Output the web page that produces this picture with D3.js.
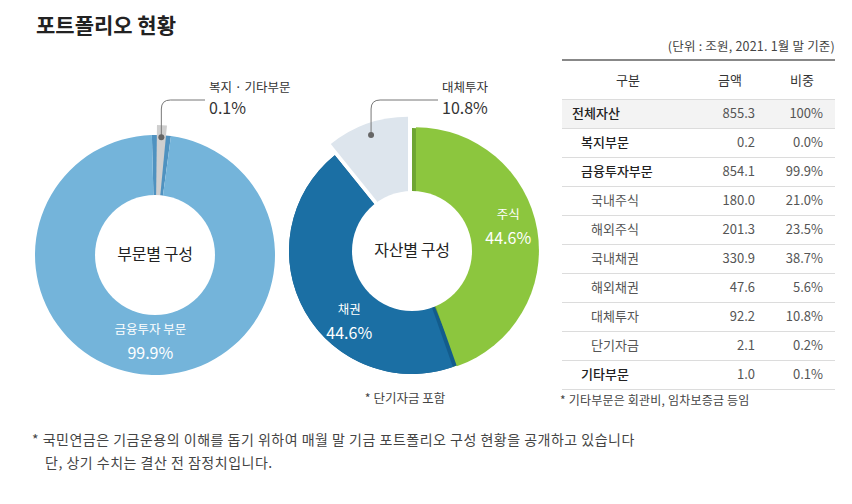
<!DOCTYPE html>
<html>
<head>
<meta charset="utf-8">
<script src="https://cdn.jsdelivr.net/npm/d3@7"></script>
<style>
  body { margin: 0; background: #fff; }
  svg { display: block; font-family: "Noto Sans CJK KR", "Noto Sans", sans-serif; }
</style>
</head>
<body>
<svg id="chart" width="852" height="504"></svg>
<script>
const titleText = '포트폴리오 현황';

// 부문별 구성
const sectorNames = ['복지 · 기타부문', '금융투자 부문'];
const sectorShares = [0.1, 99.9];

// 자산별 구성
const assetNames = ['주식', '채권', '대체투자'];
const assetShares = [44.6, 44.6, 10.8];

// table
const unitNote = '(단위 : 조원, 2021. 1월 말 기준)';
const headLabels = ['구분', '금액', '비중'];
const rowLabels = ['전체자산', '복지부문', '금융투자부문', '국내주식', '해외주식', '국내채권', '해외채권', '대체투자', '단기자금', '기타부문'];
const rowAmounts = [855.3, 0.2, 854.1, 180.0, 201.3, 330.9, 47.6, 92.2, 2.1, 1.0];
const rowShares = [100, 0.0, 99.9, 21.0, 23.5, 38.7, 5.6, 10.8, 0.2, 0.1];
const rowLevels = [0, 1, 1, 2, 2, 2, 2, 2, 2, 1];

const assetNote = '* 단기자금 포함';
const tableNote = '* 기타부문은 회관비, 임차보증금 등임';
const footLines = [
  '* 국민연금은 기금운용의 이해를 돕기 위하여 매월 말 기금 포트폴리오 구성 현황을 공개하고 있습니다',
  '단, 상기 수치는 결산 전 잠정치입니다.'
];

// tiny slices get a minimum drawn share so they stay visible (as in the original)
const MIN_VISIBLE = 2.6;

const svg = d3.select('#chart');
const pct = v => (v === 100 ? '100' : v.toFixed(1)) + '%';

svg.append('text')
  .attr('x', 36).attr('y', 33)
  .attr('font-size', 21).attr('font-weight', 700)
  .attr('fill', '#222')
  .text(titleText);

function drawDonut (cfg) {
  const g = svg.append('g').attr('transform', `translate(${cfg.cx},${cfg.cy})`);
  const data = cfg.names.map((name, i) => ({ name, value: cfg.values[i] }));
  const pie = d3.pie()
    .sort(null)
    .startAngle(cfg.startAngle)
    .endAngle(cfg.startAngle + 2 * Math.PI)
    .value(d => Math.max(d.value, MIN_VISIBLE));
  const arcs = pie(data);
  const arc = d3.arc().innerRadius(0).outerRadius(cfg.r);
  const mid = a => (a.startAngle + a.endAngle) / 2;
  const shift = (a, dist) => [Math.sin(mid(a)) * dist, -Math.cos(mid(a)) * dist];

  // darker edge under exploded slices
  g.selectAll('path.shade')
    .data(arcs.filter(a => cfg.shades[a.index]))
    .join('path')
    .attr('class', 'shade')
    .attr('d', a => arc({ startAngle: a.startAngle - cfg.shadePad[a.index], endAngle: a.endAngle }))
    .attr('fill', a => cfg.shades[a.index]);

  g.selectAll('path.slice')
    .data(arcs)
    .join('path')
    .attr('class', 'slice')
    .attr('transform', a => `translate(${shift(a, cfg.explode[a.index])})`)
    .attr('d', a => arc({ startAngle: a.startAngle + cfg.trim[a.index], endAngle: a.endAngle - cfg.trim[a.index] }))
    .attr('fill', a => cfg.colors[a.index]);

  g.append('circle').attr('r', cfg.hole).attr('fill', '#fff');

  g.append('text')
    .attr('y', 1)
    .attr('text-anchor', 'middle')
    .attr('dominant-baseline', 'middle')
    .attr('font-size', 16)
    .attr('letter-spacing', -0.3)
    .attr('fill', '#222')
    .text(cfg.title);

  // labels inside the ring
  arcs.filter(a => a.index !== cfg.callout).forEach(a => {
    const ang = mid(a) + (cfg.labelNudge[a.index] || 0);
    const [ox, oy] = shift(a, cfg.explode[a.index]);
    const x = ox + Math.sin(ang) * cfg.labelR;
    const y = oy - Math.cos(ang) * cfg.labelR;
    g.append('text')
      .attr('x', x).attr('y', y - 12)
      .attr('text-anchor', 'middle').attr('dominant-baseline', 'middle')
      .attr('font-size', 12.5).attr('fill', '#fff')
      .text(a.data.name);
    g.append('text')
      .attr('x', x).attr('y', y + 12)
      .attr('text-anchor', 'middle').attr('dominant-baseline', 'middle')
      .attr('font-size', 16).attr('fill', '#fff')
      .text(pct(a.data.value));
  });

  // callout for the exploded slice
  const c = arcs[cfg.callout];
  const [ox, oy] = shift(c, cfg.explode[c.index]);
  const dx = ox + Math.sin(mid(c)) * (cfg.r - 12);
  const dy = oy - Math.cos(mid(c)) * (cfg.r - 12);
  const cy = cfg.calloutY - cfg.cy;
  const ex = cfg.calloutX - cfg.cx;
  g.append('path')
    .attr('d', `M${dx},${dy}V${cy + 9}Q${dx},${cy} ${dx + 9},${cy}H${ex}`)
    .attr('fill', 'none').attr('stroke', '#777').attr('stroke-width', 1);
  g.append('circle').attr('cx', dx).attr('cy', dy).attr('r', 3).attr('fill', '#666');
  g.append('text')
    .attr('x', ex + 4).attr('y', cy - 11)
    .attr('dominant-baseline', 'middle')
    .attr('font-size', 12.5).attr('fill', '#333')
    .text(c.data.name);
  g.append('text')
    .attr('x', ex + 4).attr('y', cy + 10)
    .attr('dominant-baseline', 'middle')
    .attr('font-size', 16).attr('fill', '#333')
    .text(pct(c.data.value));
}

drawDonut({
  cx: 155, cy: 255, r: 120, hole: 60, labelR: 88,
  startAngle: -0.026,
  names: sectorNames, values: sectorShares,
  colors: ['#cfcfcf', '#74b4da'],
  shades: ['#4f92c0', null],
  shadePad: [0, 0],
  trim: [0.038, 0],
  explode: [10, 0],
  labelNudge: [0, 0],
  callout: 0, calloutX: 205, calloutY: 100,
  title: '부문별 구성'
});

drawDonut({
  cx: 412, cy: 251, r: 123, hole: 60, labelR: 95,
  startAngle: 0,
  names: assetNames, values: assetShares,
  colors: ['#8cc63e', '#1b6fa4', '#dde5ed'],
  shades: ['#6ea532', '#135c8c', null],
  shadePad: [0, 0.05, 0],
  trim: [0, 0, 0],
  explode: [4, 0, 12],
  labelNudge: [-0.07, -0.34, 0],
  callout: 2, calloutX: 438, calloutY: 100,
  title: '자산별 구성'
});

svg.append('text')
  .attr('x', 405).attr('y', 400)
  .attr('text-anchor', 'middle').attr('dominant-baseline', 'middle')
  .attr('font-size', 12.5).attr('fill', '#444')
  .text(assetNote);

// table
const tx0 = 562, tx1 = 835;
const rowH = 29, headTop = 60, headBottom = 99;
const indent = [572, 581, 591];
const rowY = d3.scaleBand().domain(d3.range(rowLabels.length))
  .range([headBottom, headBottom + rowH * rowLabels.length]);
const colX = [628, 730, 802];

svg.append('text')
  .attr('x', tx1).attr('y', 48)
  .attr('text-anchor', 'end').attr('dominant-baseline', 'middle')
  .attr('font-size', 12.5).attr('letter-spacing', 0.2).attr('fill', '#444')
  .text(unitNote);

svg.append('rect')
  .attr('x', tx0).attr('y', rowY(0)).attr('width', tx1 - tx0).attr('height', rowY.bandwidth())
  .attr('fill', '#f3f3f3');

svg.append('line')
  .attr('x1', tx0).attr('x2', tx1).attr('y1', headTop).attr('y2', headTop)
  .attr('stroke', '#888').attr('stroke-width', 2);

svg.selectAll('text.head')
  .data(headLabels)
  .join('text')
  .attr('class', 'head')
  .attr('x', (d, i) => colX[i]).attr('y', (headTop + headBottom) / 2 + 2)
  .attr('text-anchor', 'middle').attr('dominant-baseline', 'middle')
  .attr('font-size', 13).attr('fill', '#333')
  .text(d => d);

svg.selectAll('line.row')
  .data(d3.range(rowLabels.length + 1))
  .join('line')
  .attr('class', 'row')
  .attr('x1', tx0).attr('x2', tx1)
  .attr('y1', i => headBottom + i * rowH + 0.5).attr('y2', i => headBottom + i * rowH + 0.5)
  .attr('stroke', '#dcdcdc');

const rows = svg.selectAll('g.trow')
  .data(rowLabels)
  .join('g')
  .attr('class', 'trow')
  .attr('transform', (d, i) => `translate(0,${rowY(i) + rowY.bandwidth() / 2 + 1})`);

rows.append('text')
  .attr('x', (d, i) => indent[rowLevels[i]])
  .attr('dominant-baseline', 'middle')
  .attr('font-size', 13)
  .attr('font-weight', (d, i) => rowLevels[i] < 2 ? 500 : 400)
  .attr('fill', (d, i) => rowLevels[i] < 2 ? '#222' : '#555')
  .text(d => d);

rows.append('text')
  .attr('x', 755)
  .attr('text-anchor', 'end').attr('dominant-baseline', 'middle')
  .attr('font-size', 13).attr('fill', '#555')
  .text((d, i) => rowAmounts[i].toFixed(1));

rows.append('text')
  .attr('x', 823)
  .attr('text-anchor', 'end').attr('dominant-baseline', 'middle')
  .attr('font-size', 13).attr('fill', '#555')
  .text((d, i) => pct(rowShares[i]));

svg.append('text')
  .attr('x', 560).attr('y', 402)
  .attr('dominant-baseline', 'middle')
  .attr('font-size', 12).attr('letter-spacing', 0.2).attr('fill', '#444')
  .text(tableNote);

svg.selectAll('text.foot')
  .data(footLines)
  .join('text')
  .attr('class', 'foot')
  .attr('x', (d, i) => i === 0 ? 32 : 45)
  .attr('y', (d, i) => 441 + i * 23)
  .attr('dominant-baseline', 'middle')
  .attr('font-size', 14).attr('letter-spacing', 0.5).attr('fill', '#444')
  .text(d => d);
</script>
</body>
</html>
